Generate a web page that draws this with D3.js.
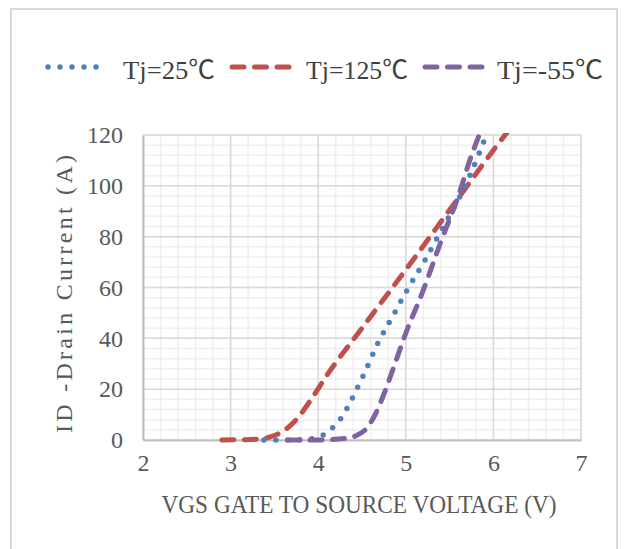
<!DOCTYPE html>
<html>
<head>
<meta charset="utf-8">
<script src="https://cdn.jsdelivr.net/npm/d3@7"></script>
<style>
  body { margin: 0; background: #fff; }
  text { font-family: "Liberation Serif", "Noto Sans CJK SC", serif; }
</style>
</head>
<body>
<svg id="chart" width="624" height="549"></svg>
<script>
// series (VGS in volts, ID in amps)
var vgs25 = [3.38, 3.7, 3.93, 4.06, 4.17, 4.26, 4.33, 4.39, 4.51, 4.68, 4.88, 5.01, 5.22, 5.43, 5.62, 5.73, 5.84, 5.93];
var id25  = [0, 0, 0.5, 2, 5, 8.5, 12.5, 16.5, 25, 38, 50.5, 58.7, 70.8, 84, 96, 104, 113, 121];

var vgs125 = [2.9, 3.3, 3.45, 3.6, 3.75, 3.9, 4.1, 4.5, 5.0, 5.5, 6.0, 6.2];
var id125  = [0, 0.3, 1.2, 3.5, 8, 15, 25.5, 44, 67, 90.5, 114, 123];

var vgsN55 = [3.65, 4.0, 4.35, 4.45, 4.55, 4.65, 4.75, 4.85, 5.0, 5.2, 5.4, 5.6, 5.75, 5.85];
var idN55  = [0, 0, 0.8, 2, 4.5, 10, 18, 27.5, 42, 59, 78, 96, 112, 121];

var seriesNames = ["Tj=25\u2103", "Tj=125\u2103", "Tj=-55\u2103"];
var seriesColors = ["#4f81bd", "#c0504d", "#8064a2"];

var xTicks = [2, 3, 4, 5, 6, 7];
var yTicks = [0, 20, 40, 60, 80, 100, 120];
var xTitle = "VGS GATE TO SOURCE VOLTAGE (V)";
var yTitle = "ID -Drain Current (A)";

function drawChart() {
  var svg = d3.select("#chart");

  // outer chart border
  svg.append("rect").attr("x", 11).attr("y", 9).attr("width", 606).attr("height", 560)
    .attr("fill", "none").attr("stroke", "#d9d9d9").attr("stroke-width", 2);

  var pLeft = 143, pTop = 135, pRight = 581, pBottom = 440;

  var x = d3.scaleLinear().domain([2, 7]).range([pLeft, pRight]);
  var y = d3.scaleLinear().domain([0, 120]).range([pBottom, pTop]);

  // GRID
  var g = svg.append("g");
  g.selectAll("line.xminor").data(d3.range(2, 7.001, 0.2)).enter().append("line")
    .attr("x1", d => x(d)).attr("x2", d => x(d)).attr("y1", pTop).attr("y2", pBottom)
    .attr("stroke", "#efefef").attr("stroke-width", 1.5);
  g.selectAll("line.yminor").data(d3.range(0, 120.001, 4)).enter().append("line")
    .attr("y1", d => y(d)).attr("y2", d => y(d)).attr("x1", pLeft).attr("x2", pRight)
    .attr("stroke", "#efefef").attr("stroke-width", 1.5);
  g.selectAll("line.xmajor").data(xTicks).enter().append("line")
    .attr("x1", d => x(d)).attr("x2", d => x(d)).attr("y1", pTop).attr("y2", pBottom)
    .attr("stroke", "#d9d9d9").attr("stroke-width", 1.5);
  g.selectAll("line.ymajor").data(yTicks).enter().append("line")
    .attr("y1", d => y(d)).attr("y2", d => y(d)).attr("x1", pLeft).attr("x2", pRight)
    .attr("stroke", "#d9d9d9").attr("stroke-width", 1.5);

  // AXES
  var xAxis = d3.axisBottom(x).tickValues(xTicks).tickFormat(d3.format("d")).tickSize(0).tickPadding(14);
  var yAxis = d3.axisLeft(y).tickValues(yTicks).tickFormat(d3.format("d")).tickSize(0).tickPadding(20);

  svg.append("g").attr("transform", "translate(0," + pBottom + ")").call(customAxis, xAxis);
  svg.append("g").attr("transform", "translate(" + pLeft + ",0)").call(customAxis, yAxis);

  function customAxis(sel, ax) {
    sel.call(ax);
    sel.select(".domain").attr("stroke", "#bfbfbf").attr("stroke-width", 2);
    sel.selectAll(".tick text").style("font-size", "24px").attr("fill", "#595959")
      .style("font-family", "'Liberation Serif', serif");
  }

  // CURVES
  svg.append("clipPath").attr("id", "plotclip")
    .append("rect").attr("x", pLeft).attr("y", pTop - 2).attr("width", pRight - pLeft).attr("height", pBottom - pTop + 8);

  var line = d3.line().x(d => x(d[0])).y(d => y(d[1])).curve(d3.curveMonotoneX);
  var dashes = ["0,12", "12,10.5", "12,10.5"];
  var widths = [5.5, 5, 5];
  var data = [d3.zip(vgs25, id25), d3.zip(vgs125, id125), d3.zip(vgsN55, idN55)];
  var drawOrder = [1, 0, 2];

  var plot = svg.append("g").attr("clip-path", "url(#plotclip)");
  drawOrder.forEach(function(i) {
    plot.append("path").datum(data[i]).attr("d", line)
      .attr("fill", "none").attr("stroke", seriesColors[i])
      .attr("stroke-width", widths[i]).attr("stroke-linecap", "round")
      .attr("stroke-dasharray", dashes[i]);
  });

  // LEGEND
  var legend = [
    {mx1: 48, mx2: 108, tx: 123, tw: 92},
    {mx1: 232, mx2: 289, tx: 306, tw: 102},
    {mx1: 425, mx2: 482, tx: 497, tw: 106}
  ];
  legend.forEach(function(l, i) {
    svg.append("line").attr("x1", l.mx1).attr("x2", l.mx2).attr("y1", 67).attr("y2", 67)
      .attr("stroke", seriesColors[i]).attr("stroke-width", widths[i])
      .attr("stroke-linecap", "round").attr("stroke-dasharray", dashes[i]);
    svg.append("text").attr("x", l.tx).attr("y", 79)
      .attr("textLength", l.tw).attr("lengthAdjust", "spacingAndGlyphs")
      .style("font-size", "26px").attr("fill", "#404040").text(seriesNames[i]);
  });

  // TITLES
  svg.append("text").attr("x", 359).attr("y", 513).attr("text-anchor", "middle")
    .attr("textLength", 395).attr("lengthAdjust", "spacingAndGlyphs")
    .style("font-size", "26px").attr("fill", "#595959").text(xTitle);

  svg.append("text").attr("transform", "translate(72,294) rotate(-90)").attr("text-anchor", "middle")
    .attr("textLength", 278).attr("lengthAdjust", "spacing")
    .style("font-size", "24px").attr("fill", "#595959").text(yTitle);
}

drawChart();
</script>
</body>
</html>
